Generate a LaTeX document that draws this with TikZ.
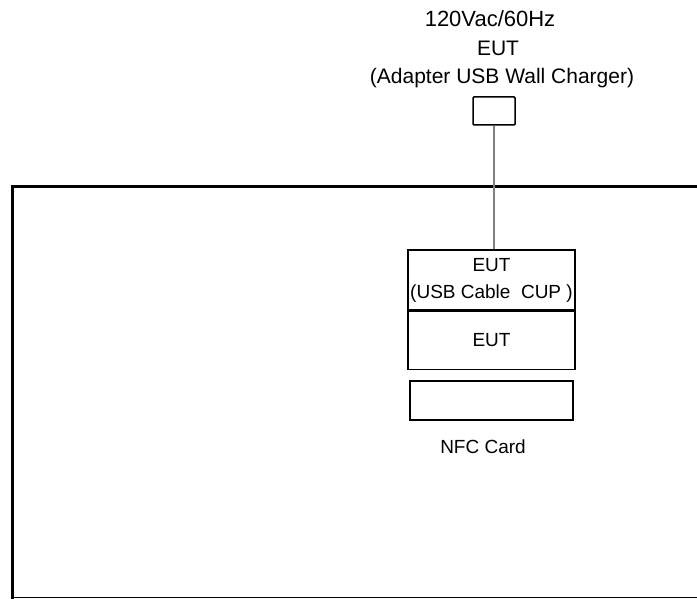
\documentclass[tikz,border=0pt]{standalone}
\usepackage{fontspec}
\setmainfont{Liberation Sans}
\usetikzlibrary{positioning}

\begin{document}
\begin{tikzpicture}[x=1bp,y=-1bp,
    lbl/.style={font=\fontsize{21bp}{25bp}\selectfont,inner sep=0pt},
    boxlbl/.style={font=\fontsize{19bp}{27bp}\selectfont,align=center},
    stackbox/.style={draw,line width=1.5bp,minimum width=167bp,inner sep=0pt}]

\useasboundingbox (0,0) rectangle (697,599);

% Frame
\draw[line width=3bp] (697,187) -- (12,187) -- (12,599);
\draw[line width=1.5bp] (12,597.5) -- (697,597.5);

% Supply labels
\node[lbl,font=\fontsize{22bp}{25bp}\selectfont] (supply) at (490,19) {120Vac/60Hz};
\node[lbl] (adapter) at (498,48) {EUT};
\node[lbl] (charger) at (502,78) {(Adapter USB Wall Charger)};

% Plug
\node[draw,line width=1.5bp,rounded corners=1bp,
      minimum width=42bp,minimum height=28bp] (plug) at (494,111) {};

% EUT stack
\node[stackbox,boxlbl,minimum height=60bp] (cup) at (491.5,280)
    {EUT\\(USB Cable~~CUP )};
\node[stackbox,boxlbl,minimum height=58bp,below=0pt of cup] (eut) {EUT};

% Cable
\draw[gray,line width=2bp] (plug.south) -- (plug.south |- cup.north);

% NFC card
\node[draw,line width=1.5bp,minimum width=163bp,minimum height=39bp] (nfc) at (491.5,400.5) {};
\node[boxlbl] (nfclbl) at (483,447) {NFC Card};

\end{tikzpicture}
\end{document}
